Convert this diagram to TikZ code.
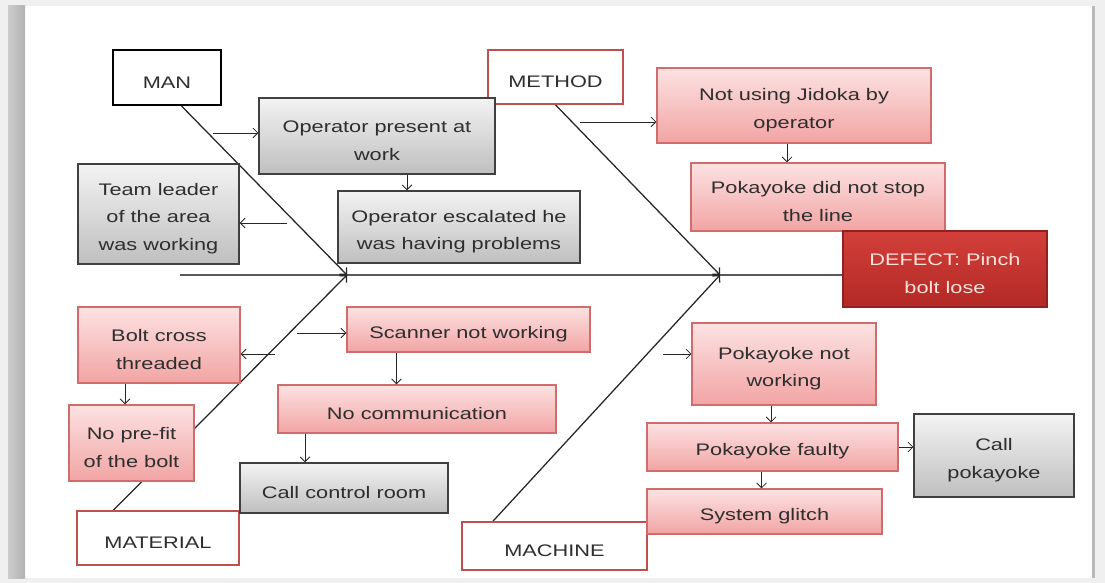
\documentclass[tikz,border=0pt]{standalone}
\usepackage{fontspec}
\setmainfont[FakeStretch=1.3]{Liberation Sans}
\usetikzlibrary{arrows.meta,shadows,backgrounds}
\definecolor{pinktop}{HTML}{FCE2E2}
\definecolor{pinkbot}{HTML}{F2A4A4}
\definecolor{pinkedge}{HTML}{D06C6C}
\definecolor{graytop}{HTML}{F3F3F3}
\definecolor{graybot}{HTML}{BFBFBF}
\definecolor{grayedge}{HTML}{404040}
\definecolor{deftop}{HTML}{D23F3A}
\definecolor{defbot}{HTML}{B32925}
\definecolor{deftext}{HTML}{FBE1DB}
\definecolor{catedge}{HTML}{C0504D}
\definecolor{inktext}{HTML}{2E2E2E}
% pushes the first line down a little
\newcommand\txtlift{\rule{0pt}{15pt}}
\begin{document}
\begin{tikzpicture}[x=.025cm,y=-.025cm,line width=.8pt,font=\fontsize{11.9}{19.5}\selectfont,
  box/.style={inner sep=0pt,align=center,text=inktext},
  wh/.style 2 args={minimum width=#1*.025cm,minimum height=#2*.025cm},
  pinkbox/.style={box,draw=pinkedge,top color=pinktop,bottom color=pinkbot,
    drop shadow={shadow xshift=.8pt,shadow yshift=-.8pt,opacity=.25}},
  graybox/.style={box,draw=grayedge,top color=graytop,bottom color=graybot,
    drop shadow={shadow xshift=.8pt,shadow yshift=-.8pt,opacity=.3}},
  catbox/.style={box,draw=catedge,fill=white,line width=1.2pt},
  bone/.style={draw=black!75,line width=.9pt},
  link/.style={draw=black!85,line width=.6pt,-{Straight Barb[length=3.5pt,width=7pt]}}]

% category boxes (centres and sizes in pixels)
\node[catbox,draw=black,line width=1.5pt,wh={108}{55}] (man) at (167,77.5) {\txtlift MAN};
\node[catbox,wh={135}{54}] (method) at (555.5,77) {\txtlift METHOD};
\node[catbox,wh={162}{54}] (material) at (158,538) {\txtlift MATERIAL};
\node[catbox,wh={185}{48}] (machine) at (554.5,546) {\txtlift MACHINE};

% causes
\node[graybox,wh={236}{76}] (opres) at (377,136) {\txtlift Operator present at\\work};
\node[graybox,wh={161}{100}] (team) at (158.5,214) {\txtlift Team leader\\of the area\\was working};
\node[graybox,wh={242}{72}] (opesc) at (459,227) {\txtlift Operator escalated he\\was having problems};
\node[pinkbox,wh={274}{75}] (jidoka) at (794,105.5) {\txtlift Not using Jidoka by\\operator};
\node[pinkbox,wh={254}{68}] (nostop) at (818,197) {\txtlift Pokayoke did not stop\\the line};
\node[box,draw=defbot!80!black,top color=deftop,bottom color=defbot,text=deftext,wh={204}{76},
  drop shadow={shadow xshift=.8pt,shadow yshift=-.8pt,opacity=.3}] (defect) at (945,269) {\txtlift DEFECT: Pinch\\bolt lose};

\node[pinkbox,wh={162}{76}] (bolt) at (159,345) {\txtlift Bolt cross\\threaded};
\node[pinkbox,wh={125}{76}] (prefit) at (131.5,443) {\txtlift No pre-fit\\of the bolt};
\node[pinkbox,wh={243}{45}] (scanner) at (468.5,329.5) {\txtlift Scanner not working};
\node[pinkbox,wh={278}{48}] (nocomm) at (417,409) {\txtlift No communication};
\node[graybox,wh={208}{50}] (ctrl) at (344,488) {\txtlift Call control room};

\node[pinkbox,wh={184}{82}] (pnw) at (784,364) {\txtlift Pokayoke not\\working};
\node[pinkbox,wh={251}{48}] (faulty) at (772.5,447) {\txtlift Pokayoke faulty};
\node[pinkbox,wh={235}{45}] (glitch) at (764.5,511.5) {\txtlift System glitch};
\node[graybox,wh={160}{83}] (callpk) at (994,455.5) {\txtlift Call\\pokayoke};

% page frame, spine and bones go behind the boxes
\begin{scope}[on background layer]
\fill[gray!12] (0,0) rectangle (1105,583);
\fill[white] (25,6) rectangle (1093,578);
\shade[left color=gray!40,right color=gray!60] (8,6) rectangle (25,578);
\fill[gray!55] (1092,6) rectangle (1095,578);
\coordinate (tail) at (180,275); \coordinate (j1) at (347,275); \coordinate (j2) at (720,275);
\draw[bone,black!65] (tail) -- (tail -| defect.west);
\draw[bone,link,line width=.9pt] (man.-63) -- (j1);
\draw[bone,link,line width=.9pt] (material.148) -- (j1);
\draw[bone,link,line width=.9pt] (method.south) -- (j2);
\draw[bone,link,line width=.9pt] (machine.158) -- (j2);
\end{scope}

% small arrows from the bones to the causes
\coordinate (a1) at (213,133); \draw[link] (a1) -- (a1 -| opres.west);
\coordinate (a2) at (287,223); \draw[link] (a2) -- (a2 -| team.east);
\coordinate (a3) at (580,122); \draw[link] (a3) -- (a3 -| jidoka.west);
\coordinate (a4) at (275,354); \draw[link] (a4) -- (a4 -| bolt.east);
\coordinate (a5) at (297,333); \draw[link] (a5) -- (a5 -| scanner.west);
\coordinate (a6) at (663,354); \draw[link] (a6) -- (a6 -| pnw.west);

% chains between causes
\draw[link] ([xshift=30*.025cm]opres.south) -- ([xshift=30*.025cm]opres.south |- opesc.north);
\draw[link] ([xshift=-7*.025cm]jidoka.south) -- ([xshift=-7*.025cm]jidoka.south |- nostop.north);
\draw[link] ([xshift=-34*.025cm]bolt.south) -- ([xshift=-34*.025cm]bolt.south |- prefit.north);
\draw[link] ([xshift=-72*.025cm]scanner.south) -- ([xshift=-72*.025cm]scanner.south |- nocomm.north);
\draw[link] ([xshift=-112*.025cm]nocomm.south) -- ([xshift=-112*.025cm]nocomm.south |- ctrl.north);
\draw[link] ([xshift=-13*.025cm]pnw.south) -- ([xshift=-13*.025cm]pnw.south |- faulty.north);
\draw[link] ([xshift=-11*.025cm]faulty.south) -- ([xshift=-11*.025cm]faulty.south |- glitch.north);
\draw[link] (faulty.east) -- (faulty.east -| callpk.west);
\end{tikzpicture}
\end{document}
